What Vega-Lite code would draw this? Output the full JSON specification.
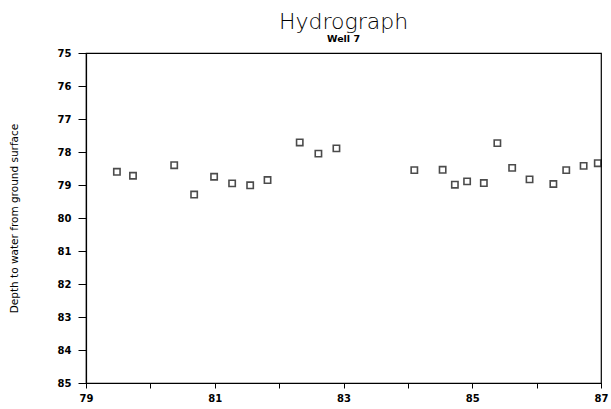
{
  "$schema": "https://vega.github.io/schema/vega-lite/v6.json",
  "width": 515,
  "height": 330,
  "autosize": {"type": "none"},
  "padding": {"left": 86, "top": 53, "right": 10, "bottom": 26},
  "background": "white",
  "title": {
    "text": "Hydrograph",
    "subtitle": "Well 7",
    "anchor": "middle",
    "frame": "group",
    "font": "DejaVu Sans",
    "fontSize": 22,
    "fontWeight": 200,
    "color": "black",
    "subtitleFont": "DejaVu Sans",
    "subtitleFontSize": 9.5,
    "subtitleFontWeight": "bold",
    "subtitleColor": "black",
    "subtitlePadding": 0,
    "offset": 4
  },
  "config": {
    "view": {"stroke": "black", "strokeWidth": 1.2},
    "axis": {
      "domainColor": "black",
      "domainWidth": 1.2,
      "tickColor": "black",
      "tickWidth": 1,
      "labelColor": "black",
      "labelFont": "DejaVu Sans",
      "labelFontWeight": "bold",
      "labelFontSize": 10,
      "titleColor": "black",
      "titleFont": "DejaVu Sans",
      "titleFontWeight": "normal",
      "titleFontSize": 10.5,
      "grid": false
    }
  },
  "data": {
    "values": [
      {"year": 79.48, "depth": 78.60},
      {"year": 79.73, "depth": 78.72},
      {"year": 80.37, "depth": 78.40},
      {"year": 80.68, "depth": 79.29},
      {"year": 80.99, "depth": 78.75},
      {"year": 81.27, "depth": 78.95},
      {"year": 81.55, "depth": 79.01},
      {"year": 81.82, "depth": 78.85},
      {"year": 82.32, "depth": 77.71},
      {"year": 82.61, "depth": 78.05},
      {"year": 82.89, "depth": 77.89},
      {"year": 84.10, "depth": 78.55},
      {"year": 84.54, "depth": 78.54},
      {"year": 84.73, "depth": 78.99},
      {"year": 84.92, "depth": 78.89},
      {"year": 85.18, "depth": 78.94},
      {"year": 85.39, "depth": 77.73},
      {"year": 85.62, "depth": 78.48},
      {"year": 85.89, "depth": 78.83},
      {"year": 86.26, "depth": 78.97},
      {"year": 86.46, "depth": 78.55},
      {"year": 86.73, "depth": 78.42},
      {"year": 86.95, "depth": 78.34}
    ]
  },
  "mark": {
    "type": "point",
    "shape": "square",
    "filled": false,
    "size": 40,
    "stroke": "black",
    "strokeWidth": 1.6,
    "clip": false
  },
  "encoding": {
    "x": {
      "field": "year",
      "type": "quantitative",
      "scale": {"domain": [79, 87], "nice": false, "zero": false},
      "axis": {
        "title": null,
        "values": [79, 80, 81, 82, 83, 84, 85, 86, 87],
        "labelExpr": "datum.value % 2 == 1 ? datum.label : ''",
        "tickSize": 5,
        "labelPadding": 5,
        "labelFlush": false
      }
    },
    "y": {
      "field": "depth",
      "type": "quantitative",
      "scale": {"domain": [75, 85], "reverse": true, "nice": false, "zero": false},
      "axis": {
        "title": "Depth to water from ground surface",
        "values": [75, 76, 77, 78, 79, 80, 81, 82, 83, 84, 85],
        "tickSize": 8,
        "labelPadding": 7,
        "titlePadding": 38
      }
    }
  }
}
